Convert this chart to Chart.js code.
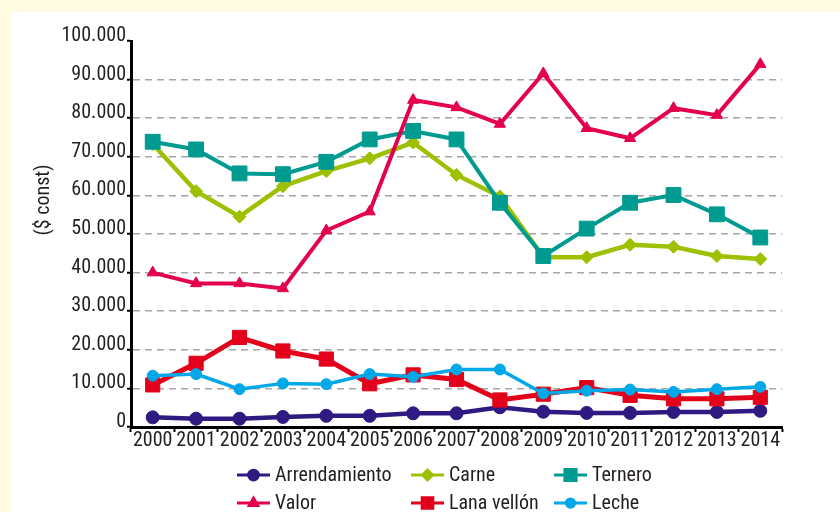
<!DOCTYPE html>
<html>
<head>
<meta charset="utf-8">
<script src="https://cdn.jsdelivr.net/npm/chart.js@4.4.1/dist/chart.umd.min.js"></script>
<style>
    html, body { margin: 0; padding: 0; background: #fffbe3; }
    #panel { position: absolute; left: 11px; top: 12px; width: 829px; height: 500px; background: #fff; }
    #wrap { position: absolute; left: 0; top: 0; width: 840px; height: 512px; }
</style>
</head>
<body>
<div id="panel"></div>
<div id="wrap"><canvas id="myChart" width="840" height="512"></canvas></div>
<script>
const years = ['2000', '2001', '2002', '2003', '2004', '2005', '2006', '2007', '2008', '2009', '2010', '2011', '2012', '2013', '2014'];

const arrendamiento = [2500, 2150, 2150, 2600, 2900, 2900, 3550, 3550, 5100, 3950, 3650, 3650, 3900, 3900, 4200];
const carne = [73300, 61100, 54500, 62400, 66300, 69600, 73700, 65300, 59700, 44000, 44000, 47200, 46700, 44300, 43500];
const ternero = [73900, 71900, 65700, 65500, 68700, 74500, 76700, 74500, 58100, 44300, 51400, 58100, 60100, 55100, 49100];
const valor = [40000, 37200, 37200, 35900, 50900, 55800, 84700, 82800, 78500, 91600, 77400, 74800, 82600, 80800, 94000];
const lana = [10900, 16500, 23200, 19700, 17600, 11200, 13500, 12300, 7000, 8500, 10200, 8200, 7300, 7300, 7700];
const leche = [13300, 13700, 9800, 11300, 11100, 13700, 13000, 14900, 14900, 8700, 9400, 9700, 9100, 9800, 10400];

const yTicks = [0, 10000, 20000, 30000, 40000, 50000, 60000, 70000, 80000, 90000, 100000];
const yTitle = '($ const)';

const TEXT = '#231f20';

// buscar una fuente angosta instalada
function pickFont() {
    const c = document.createElement('canvas').getContext('2d');
    const sample = '2000 Arrendamiento 100.000';
    c.font = '20px monospace';
    const base = c.measureText(sample).width;
    const names = ['Liberation Sans Narrow', 'Roboto Condensed', 'Arial Narrow', 'Nimbus Sans Narrow', 'DejaVu Sans Condensed'];
    for (const n of names) {
        c.font = "20px '" + n + "', monospace";
        if (Math.abs(c.measureText(sample).width - base) > 0.5) return n;
    }
    return 'Liberation Sans';
}
const fontName = pickFont();
const FONT = "'" + fontName + "', sans-serif";
const FS = fontName === 'DejaVu Sans Condensed' ? 17 : (fontName === 'Liberation Sans' ? 16 : 20);

function fmt(v) {
    return String(v).replace(/\B(?=(\d{3})+(?!\d))/g, '.');
}

function serie(label, data, color, style, radius, width, idx) {
    return {
        label: label,
        data: data,
        borderColor: color,
        backgroundColor: color,
        pointBackgroundColor: color,
        pointBorderColor: color,
        pointStyle: style,
        pointRadius: radius,
        pointBorderWidth: 1,
        borderWidth: width,
        tension: 0,
        order: 5 - idx
    };
}

// leyenda en 3 columnas, como en el original
const legendSpots = [[237, 475], [411, 475], [554, 475], [237, 503], [411, 503], [554, 503]];
const legendPlugin = {
    id: 'legendGrid',
    afterDraw(chart) {
        const ctx = chart.ctx;
        chart.data.datasets.forEach((ds, i) => {
            const [x, y] = legendSpots[i];
            ctx.save();
            ctx.strokeStyle = ds.borderColor;
            ctx.lineWidth = 3;
            ctx.beginPath();
            ctx.moveTo(x, y);
            ctx.lineTo(x + 33, y);
            ctx.stroke();
            ctx.fillStyle = ds.pointBackgroundColor;
            ctx.strokeStyle = ds.pointBorderColor;
            Chart.helpers.drawPoint(ctx, {
                pointStyle: ds.pointStyle,
                radius: ds.pointRadius * 0.75,
                borderWidth: 1,
                rotation: 0
            }, x + 16.5, y);
            ctx.fillStyle = TEXT;
            ctx.font = FS + 'px ' + FONT;
            ctx.textBaseline = 'middle';
            ctx.textAlign = 'left';
            ctx.fillText(ds.label, x + 38, y + 1);
            ctx.restore();
        });

        // título del eje Y
        ctx.save();
        ctx.translate(44, 200);
        ctx.rotate(-Math.PI / 2);
        ctx.fillStyle = TEXT;
        ctx.font = FS + 'px ' + FONT;
        ctx.textAlign = 'center';
        ctx.textBaseline = 'middle';
        ctx.fillText(yTitle, 0, 0);
        ctx.restore();
    }
};

const ctxChart = document.getElementById('myChart').getContext('2d');
const myChart = new Chart(ctxChart, {
    type: 'line',
    data: {
        labels: years,
        datasets: [
            serie('Arrendamiento', arrendamiento, '#2e1a80', 'circle', 6.5, 4.5, 0),
            serie('Carne', carne, '#9dc100', 'rectRot', 6.5, 4.5, 1),
            serie('Ternero', ternero, '#009b90', 'rect', 10.5, 4, 2),
            serie('Valor', valor, '#e4004f', 'triangle', 6.5, 4, 3),
            serie('Lana vellón', lana, '#e2001a', 'rect', 10, 5, 4),
            serie('Leche', leche, '#00a8e8', 'circle', 5.5, 3.5, 5)
        ]
    },
    options: {
        responsive: false,
        animation: false,
        layout: {
            padding: { left: 0, top: 41, right: 58, bottom: 50 }
        },
        scales: {
            x: {
                offset: true,
                border: { color: '#000', width: 3 },
                grid: {
                    offset: true,
                    drawOnChartArea: false,
                    drawTicks: true,
                    tickLength: 5,
                    tickColor: '#000',
                    tickWidth: 2
                },
                ticks: {
                    color: TEXT,
                    font: { family: FONT, size: FS },
                    padding: -3,
                    maxRotation: 0,
                    autoSkip: false
                },
                afterFit: (s) => { s.height = 35; }
            },
            y: {
                min: 0,
                max: 100000,
                afterBuildTicks: (s) => { s.ticks = yTicks.map(v => ({ value: v })); },
                border: { color: '#000', width: 3, dash: [7, 5] },
                grid: {
                    color: (c) => (c.tick && c.tick.value > 0 && c.tick.value < 100000) ? '#a6a6a6' : 'rgba(0,0,0,0)',
                    lineWidth: 1.5,
                    tickColor: '#000',
                    tickWidth: 2,
                    tickLength: 4,
                    tickBorderDash: []
                },
                ticks: {
                    color: TEXT,
                    font: { family: FONT, size: FS },
                    padding: 1,
                    labelOffset: -5,
                    callback: (v) => fmt(v)
                },
                afterFit: (s) => { s.width = 131; }
            }
        },
        plugins: {
            legend: { display: false },
            tooltip: { enabled: false }
        }
    },
    plugins: [legendPlugin]
});
</script>
</body>
</html>
